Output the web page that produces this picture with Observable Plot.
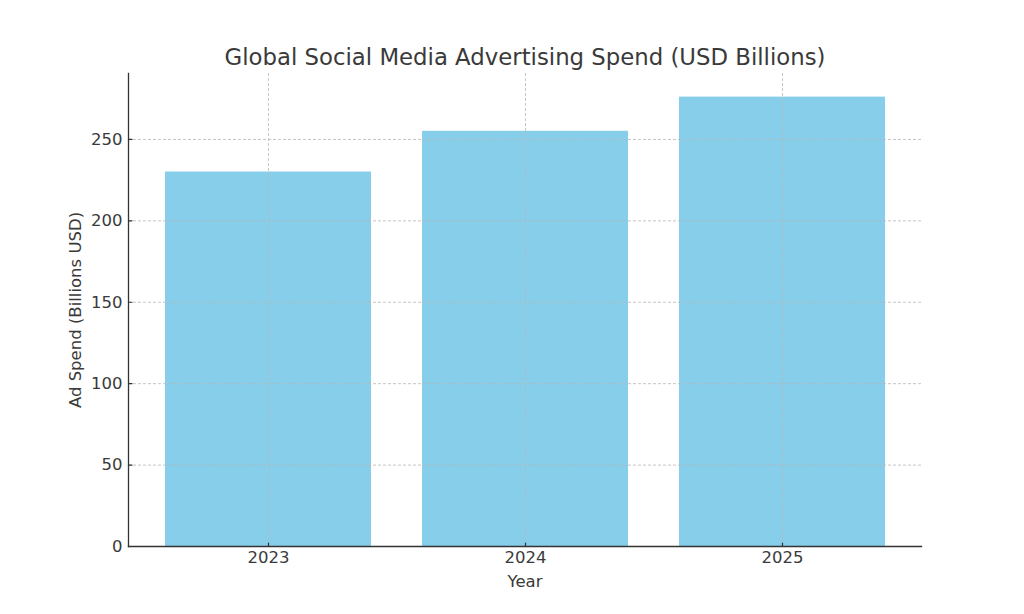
<!DOCTYPE html>
<html>
<head>
<meta charset="utf-8">
<script src="https://cdn.jsdelivr.net/npm/d3@7"></script>
<script src="https://cdn.jsdelivr.net/npm/@observablehq/plot@0.6"></script>
<style>
  body { margin: 0; background: #fff; }
  #chart { width: 1024px; height: 614px; }
</style>
</head>
<body>
<div id="chart"></div>
<script>
const years = ["2023", "2024", "2025"];
const spend = [230, 255, 276];
const yTicks = [0, 50, 100, 150, 200, 250];
const titleText = "Global Social Media Advertising Spend (USD Billions)";
const xLabel = "Year";
const yLabel = "Ad Spend (Billions USD)";

const data = years.map((y, i) => ({year: y, spend: spend[i]}));
const textColor = "#3a3a3a";
const tickShape = {draw(context, l) { context.moveTo(0, 0); context.lineTo(0, -l); }};

const chart = Plot.plot({
  width: 1024,
  height: 614,
  marginTop: 73,
  marginBottom: 68,
  marginLeft: 128,
  marginRight: 103,
  style: {fontFamily: "'DejaVu Sans', sans-serif", fontSize: "16.5px", color: textColor, background: "#fff"},
  x: {domain: years, paddingInner: 0.2, paddingOuter: 0.14, label: null},
  y: {domain: [0, 290.5], label: null},
  marks: [
    Plot.barY(data, {x: "year", y: "spend", fill: "#87CEEB", insetLeft: 0, insetRight: 0}),
    Plot.gridY(yTicks, {stroke: "#b8b8b8", strokeOpacity: 1, strokeDasharray: "3,2", strokeWidth: 0.8}),
    Plot.gridX(years, {stroke: "#b8b8b8", strokeOpacity: 1, strokeDasharray: "3,2", strokeWidth: 0.8}),
    Plot.vector(years, {x: d => d, frameAnchor: "bottom", length: 3.5, anchor: "start", shape: tickShape, stroke: "#333", strokeWidth: 1.2}),
    Plot.vector(yTicks, {y: d => d, frameAnchor: "left", rotate: 90, length: 3.5, anchor: "start", shape: tickShape, stroke: "#333", strokeWidth: 1.2}),
    Plot.frame({anchor: "left", stroke: "#333", strokeWidth: 1.3}),
    Plot.frame({anchor: "bottom", stroke: "#333", strokeWidth: 1.3}),
    Plot.axisY(yTicks, {tickSize: 0, tickPadding: 6, fill: textColor, fontSize: 16.5, label: null}),
    Plot.axisX(years, {tickSize: 0, tickPadding: 5, fill: textColor, fontSize: 16.5, label: null}),
    Plot.text([xLabel], {frameAnchor: "bottom", lineAnchor: "middle", dy: 35, fontSize: 16.5, fill: textColor}),
    Plot.text([yLabel], {frameAnchor: "left", textAnchor: "middle", lineAnchor: "middle", dx: -53, rotate: -90, fontSize: 16.5, fill: textColor}),
    Plot.text([titleText], {frameAnchor: "top", lineAnchor: "middle", dy: -16, fontSize: 22.8, fill: textColor})
  ]
});
document.getElementById("chart").appendChild(chart);
</script>
</body>
</html>
